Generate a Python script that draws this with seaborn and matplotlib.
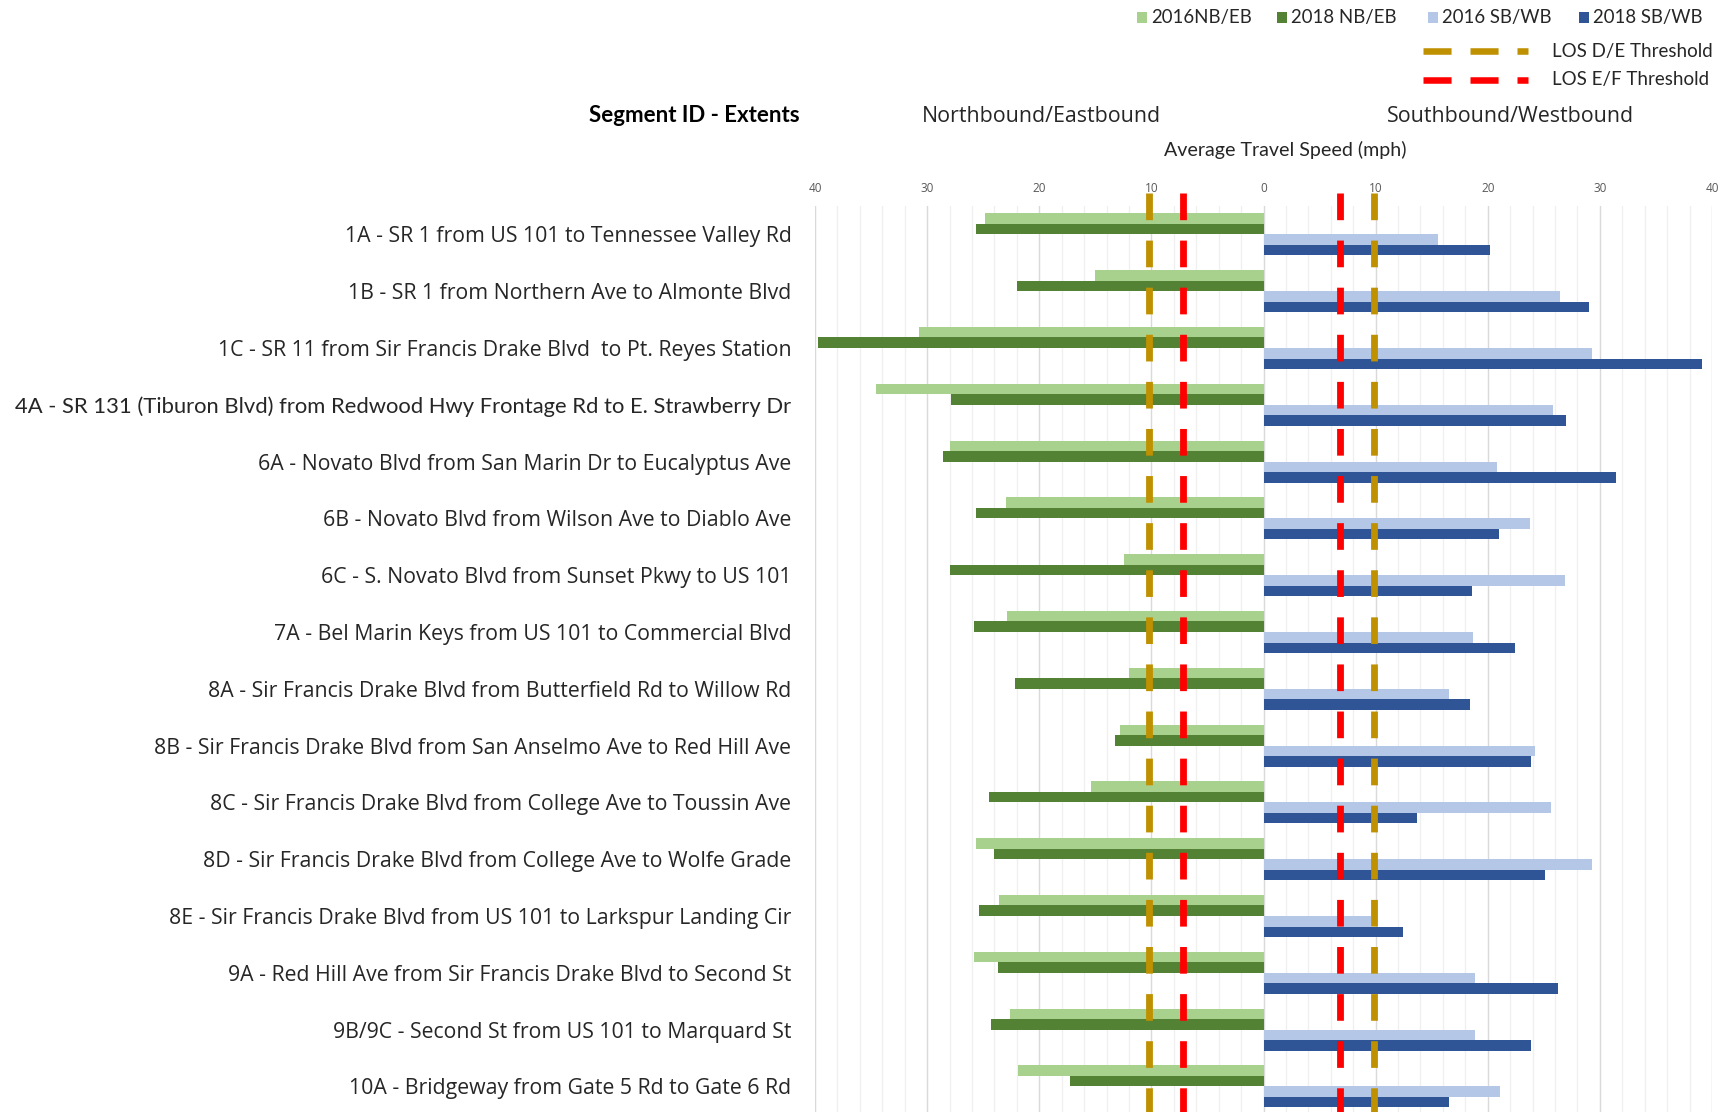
import numpy as np
import pandas as pd
import seaborn as sns
import matplotlib.pyplot as plt
from matplotlib.transforms import blended_transform_factory, ScaledTranslation
from matplotlib.patches import Rectangle
from matplotlib.lines import Line2D
from matplotlib.ticker import MultipleLocator, FixedLocator

# Corridor segments (top to bottom)
segments = [
    "1A - SR 1 from US 101 to Tennessee Valley Rd",
    "1B - SR 1 from Northern Ave to Almonte Blvd",
    "1C - SR 11 from Sir Francis Drake Blvd  to Pt. Reyes Station",
    "4A - SR 131 (Tiburon Blvd) from Redwood Hwy Frontage Rd to E. Strawberry Dr",
    "6A - Novato Blvd from San Marin Dr to Eucalyptus Ave",
    "6B - Novato Blvd from Wilson Ave to Diablo Ave",
    "6C - S. Novato Blvd from Sunset Pkwy to US 101",
    "7A - Bel Marin Keys from US 101 to Commercial Blvd",
    "8A - Sir Francis Drake Blvd from Butterfield Rd to Willow Rd",
    "8B - Sir Francis Drake Blvd from San Anselmo Ave to Red Hill Ave",
    "8C - Sir Francis Drake Blvd from College Ave to Toussin Ave",
    "8D - Sir Francis Drake Blvd from College Ave to Wolfe Grade",
    "8E - Sir Francis Drake Blvd from US 101 to Larkspur Landing Cir",
    "9A - Red Hill Ave from Sir Francis Drake Blvd to Second St",
    "9B/9C - Second St from US 101 to Marquard St",
    "10A - Bridgeway from Gate 5 Rd to Gate 6 Rd",
]

# Average travel speeds (mph)
nb_2016 = [24.8, 15.0, 30.7, 34.6, 28.0, 23.0, 12.4, 22.9, 12.0, 12.8, 15.4, 25.6, 23.6, 25.8, 22.6, 21.9]
nb_2018 = [25.6, 22.0, 39.7, 27.9, 28.6, 25.6, 28.0, 25.8, 22.2, 13.2, 24.5, 24.0, 25.4, 23.7, 24.3, 17.3]
sb_2016 = [15.6, 26.4, 29.3, 25.8, 20.8, 23.8, 26.9, 18.7, 16.5, 24.2, 25.6, 29.3, 9.6, 18.9, 18.9, 21.1]
sb_2018 = [20.2, 29.0, 39.1, 27.0, 31.4, 21.0, 18.6, 22.4, 18.4, 23.9, 13.7, 25.1, 12.4, 26.3, 23.9, 16.5]

series_labels = ["2016NB/EB", "2018 NB/EB", "2016 SB/WB", "2018 SB/WB"]
series_colors = ["#A9D18E", "#548235", "#B4C7E7", "#2F5597"]

# Level-of-service thresholds (mph)
los_de = 10
los_ef = 7
threshold_labels = ["LOS D/E Threshold", "LOS E/F Threshold"]
threshold_colors = ["#BF9000", "#FF0000"]

# Long table: northbound/eastbound plotted to the left (negative)
rows = []
for label, vals, sign in zip(series_labels, [nb_2016, nb_2018, sb_2016, sb_2018], [-1, -1, 1, 1]):
    for seg, v in zip(segments, vals):
        rows.append({"segment": seg, "series": label, "speed": sign * v})
df = pd.DataFrame(rows)

plt.rcParams["font.family"] = ["Open Sans", "DejaVu Sans"]
CAL = ["Lato", "DejaVu Sans"]

W, H = 1726, 1112
fig = plt.figure(figsize=(W / 100, H / 100), dpi=100)
ax_left, ax_right, ax_top = 815, 1712, 206
slot = 56.8
ax_h = slot * len(segments)
ax = fig.add_axes([ax_left / W, 1 - (ax_top + ax_h) / H, (ax_right - ax_left) / W, ax_h / H])

sns.barplot(data=df, x="speed", y="segment", hue="series", hue_order=series_labels,
            order=segments, palette=series_colors, orient="h", width=0.74, dodge=True,
            errorbar=None, saturation=1, linewidth=0, legend=False, ax=ax)

ax.set_xlim(-40, 40)
ax.set_ylim(len(segments) - 0.5, -0.5)
major = list(range(-40, 41, 10))
ax.xaxis.set_major_locator(FixedLocator(major))
ax.xaxis.set_minor_locator(MultipleLocator(2))
ax.set_xticklabels([str(abs(t)) for t in major])
ax.xaxis.set_ticks_position("top")
ax.tick_params(axis="x", which="both", length=0, labeltop=True, labelbottom=False,
               pad=8, labelsize=8.5, labelcolor="#595959")
ax.grid(axis="x", which="major", color="#D9D9D9", linewidth=1.0)
ax.grid(axis="x", which="minor", color="#F0F0F0", linewidth=1.0)
ax.set_axisbelow(True)
for s in ax.spines.values():
    s.set_visible(False)

ax.set_xlabel("")
ax.set_ylabel("")
ax.tick_params(axis="y", length=0, pad=17, labelsize=15.3, labelcolor="#262626")
for tl in ax.get_yticklabels():
    if tl.get_text().startswith("4A"):
        tl.set_fontfamily(CAL)
        tl.set_fontsize(15.85)

# Dashed threshold lines on both sides of zero
trans = blended_transform_factory(ax.transData, ax.transAxes) + \
    ScaledTranslation(-2 / 100, 0, fig.dpi_scale_trans)
y_top = 1 + (ax_top - 193) / ax_h
for val, col in zip([los_de, los_ef], threshold_colors):
    for sgn in (-1, 1):
        ax.plot([sgn * val, sgn * val], [y_top, -0.02], transform=trans, color=col,
                linewidth=4.9, linestyle=(0, (3.92, 3.0)), dash_capstyle="butt",
                clip_on=False, zorder=5)

# Headers
fig.text(800 / W, 1 - 116 / H, "Segment ID - Extents", ha="right", va="center",
         fontsize=16, fontweight="bold", family=CAL, color="#000000")
fig.text(1041 / W, 1 - 116 / H, "Northbound/Eastbound", ha="center", va="center",
         fontsize=15.4, color="#262626")
fig.text(1510 / W, 1 - 116 / H, "Southbound/Westbound", ha="center", va="center",
         fontsize=15.4, color="#262626")
fig.text(1285 / W, 1 - 150 / H, "Average Travel Speed (mph)", ha="center", va="center",
         fontsize=14.1, family=CAL, color="#262626")

# Legend: series swatches
legend_x = [1137, 1277, 1428, 1579]
for x0, lab, col in zip(legend_x, series_labels, series_colors):
    fig.add_artist(Rectangle((x0 / W, 1 - 23 / H), 10 / W, 11 / H, transform=fig.transFigure,
                             facecolor=col, edgecolor="none"))
    fig.text((x0 + 14) / W, 1 - 18 / H, lab, ha="left", va="center", fontsize=13.4,
             family=CAL, color="#262626")

# Legend: threshold line samples
for yy, lab, col in zip([51, 80], threshold_labels, threshold_colors):
    fig.add_artist(Line2D([1423 / W, 1528 / W], [1 - yy / H, 1 - yy / H],
                          transform=fig.transFigure, color=col, linewidth=4.7,
                          linestyle=(0, (4.3, 2.9)), dash_capstyle="butt"))
    fig.text(1552 / W, 1 - yy / H, lab, ha="left", va="center", fontsize=13.5,
             family=CAL, color="#262626")

fig.savefig("out.png", dpi=100, facecolor="white")
